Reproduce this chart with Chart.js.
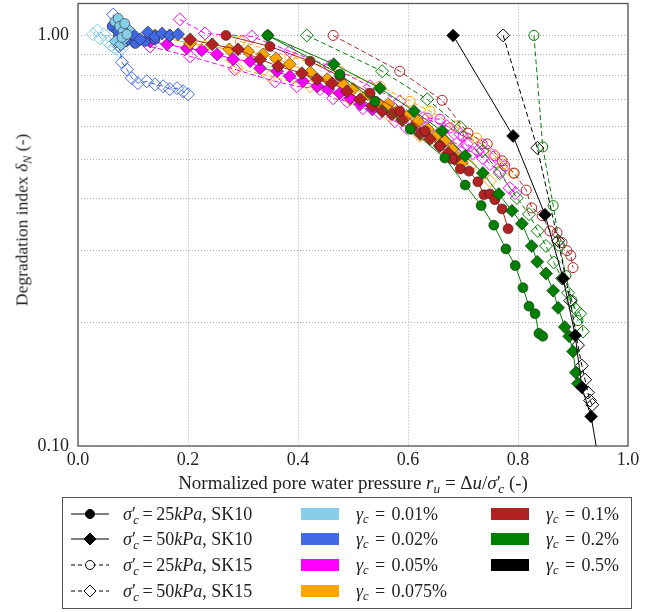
<!DOCTYPE html>
<html>
<head>
<meta charset="utf-8">
<script src="https://cdn.jsdelivr.net/npm/chart.js@4.4.0/dist/chart.umd.min.js"></script>
<style>
  body { margin: 0; background: #fff; overflow: hidden; }
  #wrap { position: relative; width: 653px; height: 612px; overflow: hidden; font-family: 'Liberation Serif', 'DejaVu Serif', serif; color: #222; }
  #chart { position: absolute; left: 0; top: -4px; }
  sub { font-size: 0.7em; vertical-align: -0.3em; line-height: 0; }
  .eq { margin: 0 0.2em; }
  .eq2 { margin: 0 0.35em; }
  .xt { position: absolute; left: 78px; width: 550px; top: 472px; text-align: center; font-size: 19px; white-space: nowrap; }
  .yt { position: absolute; left: 22px; top: 220px; transform: translate(-50%, -50%) rotate(-90deg); white-space: nowrap; font-size: 17.5px; }
  #legend { position: absolute; left: 62px; top: 497px; width: 570px; height: 112px; border: 1px solid #555; box-sizing: border-box; }
  .it { position: absolute; font-size: 18px; white-space: nowrap; transform: translateY(-50%); }
  .sw { position: absolute; width: 38px; height: 12px; transform: translateY(-50%); }
  .mk { position: absolute; transform: translateY(-50%); }
</style>
</head>
<body>
<div id="wrap">
  <canvas id="chart" width="653" height="616"></canvas>
  <div class="yt">Degradation index <i>δ<sub>N</sub></i> (-)</div>
  <div class="xt">Normalized pore water pressure <i>r<sub>u</sub></i> = Δ<i>u</i>/<i>σ</i>′<sub style="margin-left:-0.2em"><i>c</i></sub> (-)</div>
  <div id="legend"></div>
</div>
<script>
// axis ticks
const xTicks = [0, 0.2, 0.4, 0.6, 0.8, 1.0];
const yTicks = [0.1, 0.2, 0.3, 0.4, 0.5, 0.6, 0.7, 0.8, 0.9, 1.0];
const yLabelled = [0.1, 1.0];

// gamma_c = 0.5 %
const g05_sk10_50_x = [0.682, 0.791, 0.849, 0.882, 0.904, 0.916, 0.933, 0.945];
const g05_sk10_50_y = [1.0, 0.569, 0.366, 0.256, 0.186, 0.139, 0.118, 0.095];
const g05_sk15_50_x = [0.773, 0.835, 0.873, 0.895, 0.909, 0.916, 0.922, 0.927, 0.931, 0.935];
const g05_sk15_50_y = [1.0, 0.532, 0.316, 0.226, 0.176, 0.157, 0.145, 0.135, 0.129, 0.126];

// gamma_c = 0.2 %
const g02_sk10_25_x = [0.345, 0.476, 0.540, 0.604, 0.667, 0.704, 0.733, 0.756, 0.778, 0.795, 0.809, 0.820, 0.831, 0.838, 0.845];
const g02_sk10_25_y = [1.0, 0.804, 0.691, 0.591, 0.503, 0.432, 0.385, 0.345, 0.302, 0.275, 0.243, 0.219, 0.210, 0.188, 0.185];
const g02_sk10_50_x = [0.345, 0.465, 0.549, 0.611, 0.662, 0.704, 0.736, 0.765, 0.789, 0.807, 0.825, 0.835, 0.851, 0.864, 0.873, 0.885, 0.893, 0.900, 0.905, 0.909];
const g02_sk10_50_y = [1.0, 0.851, 0.744, 0.654, 0.585, 0.509, 0.462, 0.411, 0.374, 0.348, 0.307, 0.281, 0.263, 0.239, 0.217, 0.195, 0.185, 0.170, 0.151, 0.142];
const g02_sk15_25_x = [0.829, 0.845, 0.864, 0.876, 0.887, 0.898, 0.909];
const g02_sk15_25_y = [1.0, 0.535, 0.385, 0.307, 0.260, 0.226, 0.202];
const g02_sk15_50_x = [0.416, 0.553, 0.635, 0.695, 0.735, 0.767, 0.798, 0.820, 0.836, 0.851, 0.865, 0.880, 0.891, 0.904, 0.913, 0.918];
const g02_sk15_50_y = [1.0, 0.818, 0.699, 0.598, 0.523, 0.462, 0.402, 0.367, 0.334, 0.307, 0.280, 0.256, 0.236, 0.216, 0.210, 0.190];

// gamma_c = 0.1 %
const g01_sk10_25_x = [0.269, 0.349, 0.422, 0.476, 0.531, 0.585, 0.631, 0.658, 0.680, 0.695, 0.711, 0.727, 0.738, 0.749, 0.758, 0.771, 0.782];
const g01_sk10_25_y = [1.0, 0.940, 0.865, 0.795, 0.723, 0.654, 0.585, 0.538, 0.500, 0.473, 0.467, 0.440, 0.409, 0.411, 0.398, 0.378, 0.338];
const g01_sk10_50_x = [0.167, 0.204, 0.244, 0.291, 0.331, 0.364, 0.407, 0.435, 0.462, 0.489, 0.513, 0.535, 0.553, 0.571, 0.589, 0.607, 0.622, 0.640, 0.658, 0.673, 0.685];
const g01_sk10_50_y = [1.0, 0.978, 0.951, 0.925, 0.875, 0.841, 0.809, 0.782, 0.765, 0.731, 0.699, 0.673, 0.654, 0.643, 0.622, 0.595, 0.575, 0.559, 0.538, 0.517, 0.500];
const g01_sk15_25_x = [0.464, 0.585, 0.662, 0.709, 0.744, 0.771, 0.793, 0.815, 0.825, 0.844, 0.858, 0.871, 0.880, 0.889, 0.896, 0.900];
const g01_sk15_25_y = [1.0, 0.818, 0.695, 0.578, 0.544, 0.495, 0.462, 0.420, 0.380, 0.364, 0.334, 0.331, 0.313, 0.299, 0.291, 0.272];

// gamma_c = 0.075 %
const g0075_sk10_50_x = [0.140, 0.204, 0.275, 0.309, 0.336, 0.360, 0.385, 0.422, 0.453, 0.482, 0.500, 0.527, 0.545, 0.564, 0.580, 0.598, 0.618, 0.636, 0.653, 0.667, 0.680, 0.691, 0.698];
const g0075_sk10_50_y = [1.0, 0.956, 0.925, 0.915, 0.899, 0.879, 0.851, 0.813, 0.782, 0.760, 0.740, 0.719, 0.684, 0.680, 0.654, 0.636, 0.618, 0.591, 0.572, 0.553, 0.528, 0.503, 0.489];
const g0075_sk15_25_x = [0.295, 0.385, 0.476, 0.549, 0.604, 0.640, 0.685, 0.725, 0.755, 0.773, 0.791];
const g0075_sk15_25_y = [0.967, 0.889, 0.818, 0.752, 0.691, 0.654, 0.601, 0.562, 0.514, 0.486, 0.462];
const g0075_sk15_50_x = [0.231, 0.289, 0.349, 0.422, 0.495, 0.567, 0.622, 0.667, 0.713, 0.749];
const g0075_sk15_50_y = [0.940, 0.832, 0.795, 0.752, 0.699, 0.636, 0.569, 0.523, 0.481, 0.442];

// gamma_c = 0.05 %
const g005_sk10_50_x = [0.100, 0.131, 0.162, 0.198, 0.225, 0.253, 0.282, 0.313, 0.331, 0.362, 0.385, 0.409, 0.435, 0.455, 0.476, 0.495, 0.513, 0.535];
const g005_sk10_50_y = [1.0, 0.967, 0.951, 0.930, 0.920, 0.899, 0.875, 0.865, 0.832, 0.818, 0.795, 0.773, 0.752, 0.740, 0.723, 0.703, 0.680, 0.661];
const g005_sk15_50a_x = [0.185, 0.231, 0.316, 0.385, 0.458, 0.531, 0.585, 0.627, 0.671, 0.695, 0.707, 0.727, 0.749, 0.767, 0.785, 0.795];
const g005_sk15_50a_y = [1.094, 1.011, 0.994, 0.915, 0.841, 0.752, 0.691, 0.629, 0.601, 0.575, 0.544, 0.523, 0.486, 0.467, 0.425, 0.413];
const g005_sk15_50b_x = [0.131, 0.204, 0.285, 0.358, 0.398, 0.440, 0.464, 0.489, 0.518, 0.549, 0.576, 0.598, 0.627, 0.645, 0.671, 0.689, 0.700, 0.718, 0.736];
const g005_sk15_50b_y = [0.940, 0.889, 0.827, 0.773, 0.752, 0.740, 0.703, 0.691, 0.665, 0.647, 0.618, 0.595, 0.585, 0.569, 0.559, 0.544, 0.532, 0.517, 0.503];
const g005_sk15_25_x = [0.635, 0.658, 0.676, 0.700, 0.735, 0.758, 0.776];
const g005_sk15_25_y = [0.629, 0.625, 0.595, 0.569, 0.544, 0.509, 0.481];

// gamma_c = 0.02 %
const g002_sk10_25_x = [0.062, 0.073, 0.087, 0.104, 0.122, 0.140];
const g002_sk10_25_y = [1.052, 0.994, 0.967, 0.956, 0.967, 0.978];
const g002_sk10_50_x = [0.073, 0.085, 0.100, 0.113, 0.127, 0.140, 0.153, 0.167, 0.182];
const g002_sk10_50_y = [1.023, 0.989, 1.006, 0.978, 1.017, 0.994, 1.011, 1.0, 1.006];
const g002_sk15_50_x = [0.064, 0.069, 0.075, 0.080, 0.089, 0.098, 0.109, 0.125, 0.140, 0.155, 0.167, 0.180, 0.191, 0.200];
const g002_sk15_50_y = [1.124, 1.034, 0.940, 0.860, 0.827, 0.787, 0.765, 0.773, 0.760, 0.752, 0.740, 0.744, 0.731, 0.719];

// gamma_c = 0.01 %
const g001_sk10_25_x = [0.067, 0.073, 0.076, 0.082, 0.085, 0.080, 0.089];
const g001_sk10_25_y = [1.081, 1.100, 1.052, 1.023, 1.069, 0.989, 1.006];
const g001_sk10_50_x = [0.069, 0.078, 0.084, 0.091];
const g001_sk10_50_y = [0.967, 0.951, 0.983, 1.034];
const g001_sk15_50_x = [0.027, 0.035, 0.040, 0.047, 0.053, 0.060, 0.067, 0.075, 0.080];
const g001_sk15_50_y = [1.006, 1.028, 0.983, 1.006, 0.967, 0.946, 0.930, 0.915, 0.930];

const C = {
  g001: '#87CEEB', g002: '#4169E1', g005: '#FF00FF', g0075: '#FFA500',
  g01: '#B22222', g02: '#008000', g05: '#000000'
};

// first entry is drawn on top
const seriesList = [
  [g05_sk10_50_x, g05_sk10_50_y, C.g05, 'd10'],
  [g001_sk10_25_x, g001_sk10_25_y, C.g001, 'c10'],
  [g001_sk10_50_x, g001_sk10_50_y, C.g001, 'd10'],
  [g002_sk10_50_x, g002_sk10_50_y, C.g002, 'd10'],
  [g002_sk10_25_x, g002_sk10_25_y, C.g002, 'c10'],
  [g02_sk10_50_x, g02_sk10_50_y, C.g02, 'd10'],
  [g02_sk10_25_x, g02_sk10_25_y, C.g02, 'c10'],
  [g01_sk10_25_x, g01_sk10_25_y, C.g01, 'c10'],
  [g01_sk10_50_x, g01_sk10_50_y, C.g01, 'd10'],
  [g0075_sk10_50_x, g0075_sk10_50_y, C.g0075, 'd10'],
  [g005_sk10_50_x, g005_sk10_50_y, C.g005, 'd10'],
  [g05_sk15_50_x, g05_sk15_50_y, C.g05, 'd15'],
  [g02_sk15_25_x, g02_sk15_25_y, C.g02, 'c15'],
  [g02_sk15_50_x, g02_sk15_50_y, C.g02, 'd15'],
  [g01_sk15_25_x, g01_sk15_25_y, C.g01, 'c15'],
  [g0075_sk15_25_x, g0075_sk15_25_y, C.g0075, 'c15'],
  [g0075_sk15_50_x, g0075_sk15_50_y, C.g0075, 'd15'],
  [g005_sk15_25_x, g005_sk15_25_y, C.g005, 'c15'],
  [g005_sk15_50a_x, g005_sk15_50a_y, C.g005, 'd15'],
  [g005_sk15_50b_x, g005_sk15_50b_y, C.g005, 'd15'],
  [g002_sk15_50_x, g002_sk15_50_y, C.g002, 'd15'],
  [g001_sk15_50_x, g001_sk15_50_y, C.g001, 'd15']
];

function makeDataset(xs, ys, color, kind) {
  const filled = kind.endsWith('10');
  const diamond = kind.startsWith('d');
  return {
    data: xs.map((x, i) => ({ x: x, y: ys[i] })),
    showLine: true,
    borderColor: color,
    borderWidth: 1,
    borderDash: filled ? [] : [5, 3],
    pointStyle: diamond ? 'rectRot' : 'circle',
    pointRadius: diamond ? 6.5 : 5,
    pointBackgroundColor: filled ? color : 'rgba(255,255,255,0)',
    pointBorderColor: filled ? 'rgba(30,30,30,0.55)' : color,
    pointBorderWidth: 1
  };
}

const framePlugin = {
  id: 'frame',
  afterDraw(chart) {
    const a = chart.chartArea, ctx = chart.ctx;
    ctx.save();
    ctx.strokeStyle = '#555';
    ctx.lineWidth = 1.3;
    ctx.strokeRect(a.left, a.top, a.right - a.left, a.bottom - a.top);
    ctx.restore();
  }
};

const tickFont = { family: "'Liberation Serif', serif", size: 18 };
new Chart(document.getElementById('chart'), {
  type: 'scatter',
  data: { datasets: seriesList.map(s => makeDataset(s[0], s[1], s[2], s[3])) },
  options: {
    responsive: false,
    animation: false,
    layout: { padding: { top: 2, right: 25, left: 0, bottom: 0 } },
    plugins: { legend: { display: false }, tooltip: { enabled: false } },
    elements: { line: { tension: 0 } },
    scales: {
      x: {
        type: 'linear', min: 0, max: 1,
        afterBuildTicks: s => { s.ticks = xTicks.map(v => ({ value: v })); },
        afterFit: s => { s.height = 166; s.paddingLeft = 0; s.paddingRight = 0; },
        ticks: { callback: v => v.toFixed(1), font: tickFont, color: '#222', padding: 3, maxRotation: 0 },
        grid: { color: '#aaa', lineWidth: 1, drawTicks: false },
        border: { display: false, dash: [1, 2] }
      },
      y: {
        type: 'logarithmic', min: 0.1, max: 1.196,
        afterBuildTicks: s => { s.ticks = yTicks.map(v => ({ value: v })); },
        afterFit: s => { s.width = 78; s.paddingTop = 0; s.paddingBottom = 0; },
        ticks: {
          autoSkip: false, font: tickFont, color: '#222', padding: 9,
          callback: v => yLabelled.some(t => Math.abs(t - v) < 1e-9) ? v.toFixed(2) : ''
        },
        grid: { color: '#aaa', lineWidth: 1, drawTicks: false },
        border: { display: false, dash: [1, 2] }
      }
    }
  },
  plugins: [framePlugin]
});

// legend (drawn as html)
const legendRows = [16, 41, 67, 93];
const sig = '<i>σ</i>′<sub style="margin-left:-0.2em"><i>c</i></sub><span class="eq">=</span>';
const lineItems = [
  ['circle', true, sig + '25<i>kPa</i>, SK10'],
  ['diamond', true, sig + '50<i>kPa</i>, SK10'],
  ['circle', false, sig + '25<i>kPa</i>, SK15'],
  ['diamond', false, sig + '50<i>kPa</i>, SK15']
];
const colorItems = [
  [C.g001, '0.01%', 0, 0], [C.g002, '0.02%', 0, 1], [C.g005, '0.05%', 0, 2], [C.g0075, '0.075%', 0, 3],
  [C.g01, '0.1%', 1, 0], [C.g02, '0.2%', 1, 1], [C.g05, '0.5%', 1, 2]
];
const lg = document.getElementById('legend');
let html = '';
lineItems.forEach((it, i) => {
  const y = legendRows[i];
  const dash = it[1] ? '' : 'stroke-dasharray="4,3"';
  const fill = it[1] ? '#000' : '#fff';
  const shape = it[0] === 'circle'
    ? `<circle cx="20" cy="8" r="4.5" fill="${fill}" stroke="#000" stroke-width="1"/>`
    : `<polygon points="20,2 26,8 20,14 14,8" fill="${fill}" stroke="#000" stroke-width="1"/>`;
  html += `<svg class="mk" style="left:7px;top:${y}px" width="40" height="16"><line x1="1" y1="8" x2="39" y2="8" stroke="#000" stroke-width="1.2" ${dash}/>${shape}</svg>`;
  html += `<div class="it" style="left:60px;top:${y}px">${it[2]}</div>`;
});
colorItems.forEach(it => {
  const y = legendRows[it[3]];
  const sx = it[2] === 0 ? 238 : 428;
  html += `<div class="sw" style="left:${sx}px;top:${y}px;background:${it[0]}"></div>`;
  html += `<div class="it" style="left:${sx + 55}px;top:${y}px"><i>γ</i><sub><i>c</i></sub><span class="eq2">=</span>${it[1]}</div>`;
});
lg.innerHTML = html;
</script>
</body>
</html>
